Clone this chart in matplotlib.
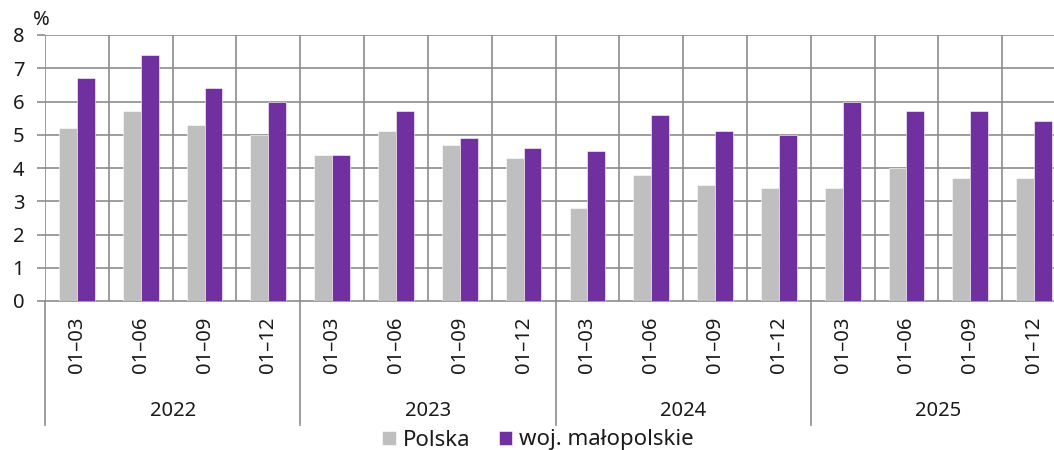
import matplotlib
matplotlib.use("Agg")
import matplotlib.pyplot as plt
import matplotlib.transforms as mtransforms
import numpy as np

plt.rcParams['font.family'] = ['Noto Sans', 'DejaVu Sans']

periods = ["01–03", "01–06", "01–09", "01–12"] * 4
years = ["2022", "2023", "2024", "2025"]
polska = [5.2, 5.7, 5.3, 5.0, 4.4, 5.1, 4.7, 4.3, 2.8, 3.8, 3.5, 3.4, 3.4, 4.0, 3.7, 3.7]
malopolskie = [6.7, 7.4, 6.4, 6.0, 4.4, 5.7, 4.9, 4.6, 4.5, 5.6, 5.1, 5.0, 6.0, 5.7, 5.7, 5.4]
series_names = ["Polska", "woj. małopolskie"]
colors = ["#bfbfbf", "#7030a0"]
yticks = [0, 1, 2, 3, 4, 5, 6, 7, 8]

W, H = 1054, 450
fig = plt.figure(figsize=(W / 100, H / 100), dpi=100)
ax = fig.add_axes([45 / W, 1 - 301 / H, (1066 - 45) / W, (301 - 35) / H])

grid_c = "#8c8c8c"
text_c = "#1a1a1a"
fs = 14.5
n = len(polska)
x = np.arange(n)
bw = 0.28
ax.bar(x - bw / 2, polska, bw, color=colors[0], label=series_names[0], zorder=3,
       edgecolor="white", linewidth=0.4)
ax.bar(x + bw / 2, malopolskie, bw, color=colors[1], label=series_names[1], zorder=3,
       edgecolor="white", linewidth=0.4)

ax.set_xlim(-0.5, n - 0.5)
ax.set_ylim(0, 8)
ax.set_yticks(yticks)
ax.set_yticklabels([str(v) for v in yticks], fontsize=fs, color=text_c)
ax.set_xticks(x)
ax.set_xticklabels(periods, rotation=90, fontsize=fs, color=text_c)
ax.tick_params(axis='x', length=0, pad=11)
ax.tick_params(axis='y', length=6, width=1.2, color=grid_c, pad=9)

for s in ["top", "right", "left"]:
    ax.spines[s].set_visible(False)
ax.spines["bottom"].set_color(grid_c)
ax.spines["bottom"].set_linewidth(1.2)

# horizontal grid
for v in yticks[1:]:
    ax.axhline(v, color=grid_c, lw=1.2, zorder=1)
# vertical grid at category boundaries
for k in range(n + 1):
    ax.axvline(k - 0.5, color=grid_c, lw=1.2, zorder=1)

# year separators and labels
trans = mtransforms.blended_transform_factory(ax.transData, ax.transAxes)
for i in range(len(years) + 1):
    xs = i * 4 - 0.5
    ax.plot([xs, xs], [0, -0.466], transform=trans, color=grid_c, lw=1.2, clip_on=False)
for i, yr in enumerate(years):
    ax.text(i * 4 + 1.5, -0.415, yr, transform=trans, ha='center', va='center',
            fontsize=fs, color=text_c)

fig.text(41 / W, 1 - 20 / H, "%", fontsize=fs, color=text_c, ha='center', va='center')

leg = fig.legend(loc='center', bbox_to_anchor=(538 / W, 1 - 440 / H), ncol=2, frameon=False,
                 fontsize=16, handlelength=0.6, handleheight=0.6, handletextpad=0.3,
                 columnspacing=1.3, borderpad=0)
for t in leg.get_texts():
    t.set_color(text_c)

fig.savefig("out.png", dpi=100)
